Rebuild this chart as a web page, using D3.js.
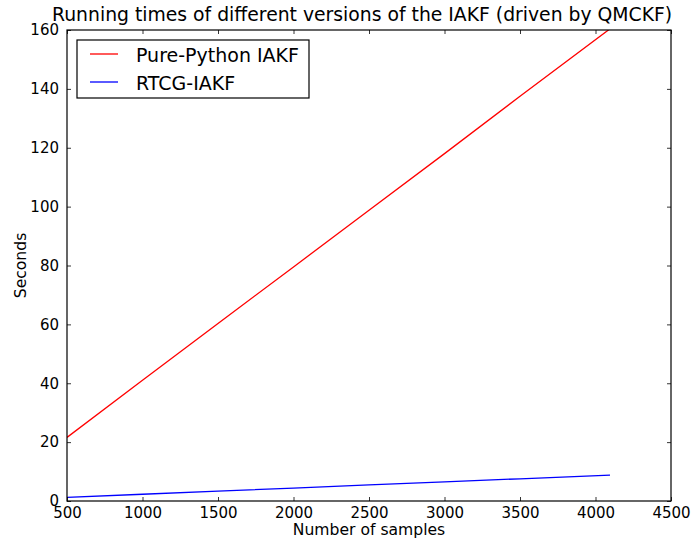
<!DOCTYPE html>
<html>
<head>
<meta charset="utf-8">
<script src="https://cdn.jsdelivr.net/npm/d3@7"></script>
<style>
  html, body { margin: 0; padding: 0; background: #fff; }
  svg { display: block; font-family: "DejaVu Sans", sans-serif; }
</style>
</head>
<body>
<svg id="chart" width="693" height="539"></svg>
<script>
// Number of samples processed
const samples = [500, 1000, 1500, 2000, 2500, 3000, 3500, 4096];
// Running time in seconds for each implementation
const purePython = [21.6, 41.0, 60.3, 79.5, 98.8, 118.0, 137.5, 160.4];
const rtcg = [1.25, 2.3, 3.35, 4.4, 5.45, 6.5, 7.55, 8.8];
const seriesNames = ["Pure-Python IAKF", "RTCG-IAKF"];
const seriesColors = ["#ff0000", "#0000ff"];
const xTicks = [500, 1000, 1500, 2000, 2500, 3000, 3500, 4000, 4500];
const yTicks = [0, 20, 40, 60, 80, 100, 120, 140, 160];

const svg = d3.select("#chart");
const m = { left: 67, right: 671, top: 30, bottom: 501 };

const x = d3.scaleLinear().domain([500, 4500]).range([m.left, m.right]);
const y = d3.scaleLinear().domain([0, 160]).range([m.bottom, m.top]);

svg.append("defs").append("clipPath").attr("id", "plotClip")
  .append("rect").attr("x", m.left).attr("y", m.top)
  .attr("width", m.right - m.left).attr("height", m.bottom - m.top);

// Lines
const line = d3.line().x((d, i) => x(samples[i])).y(d => y(d));
[purePython, rtcg].forEach((vals, k) => {
  svg.append("path")
    .datum(vals)
    .attr("clip-path", "url(#plotClip)")
    .attr("fill", "none")
    .attr("stroke", seriesColors[k])
    .attr("stroke-width", 1.3)
    .attr("d", line);
});

// Axes: inward ticks on all four sides
const tickLen = 4;
const axStyle = g => {
  g.select(".domain").remove();
  g.selectAll(".tick line").attr("stroke", "#000").attr("stroke-width", 0.8);
  g.selectAll(".tick text").attr("fill", "#000").attr("font-size", 15)
    .attr("font-family", "DejaVu Sans, sans-serif");
};
svg.append("g").attr("transform", `translate(0,${m.bottom})`)
  .call(d3.axisBottom(x).tickValues(xTicks).tickSize(-tickLen).tickPadding(6).tickFormat(d3.format("d")))
  .call(axStyle);
svg.append("g").attr("transform", `translate(0,${m.top})`)
  .call(d3.axisTop(x).tickValues(xTicks).tickSize(-tickLen).tickFormat(""))
  .call(axStyle);
svg.append("g").attr("transform", `translate(${m.left},0)`)
  .call(d3.axisLeft(y).tickValues(yTicks).tickSize(-tickLen).tickPadding(8).tickFormat(d3.format("d")))
  .call(axStyle);
svg.append("g").attr("transform", `translate(${m.right},0)`)
  .call(d3.axisRight(y).tickValues(yTicks).tickSize(-tickLen).tickFormat(""))
  .call(axStyle);

// Frame
svg.append("rect").attr("x", m.left).attr("y", m.top)
  .attr("width", m.right - m.left).attr("height", m.bottom - m.top)
  .attr("fill", "none").attr("stroke", "#000").attr("stroke-width", 1.2);

// Title and axis labels
svg.append("text").attr("x", 52).attr("y", 21)
  .attr("font-size", 18.8).attr("fill", "#000")
  .text("Running times of different versions of the IAKF (driven by QMCKF)");
svg.append("text").attr("x", (m.left + m.right) / 2).attr("y", 535)
  .attr("text-anchor", "middle").attr("font-size", 15.6).attr("fill", "#000")
  .text("Number of samples");
svg.append("text").attr("transform", `translate(26,${(m.top + m.bottom) / 2}) rotate(-90)`)
  .attr("text-anchor", "middle").attr("font-size", 15.6).attr("fill", "#000")
  .text("Seconds");

// Legend
const lg = svg.append("g");
lg.append("rect").attr("x", 77).attr("y", 40).attr("width", 232).attr("height", 58)
  .attr("fill", "#fff").attr("stroke", "#000").attr("stroke-width", 1.2);
seriesNames.forEach((name, k) => {
  const ly = 54 + k * 28;
  lg.append("line").attr("x1", 90).attr("x2", 118).attr("y1", ly).attr("y2", ly)
    .attr("stroke", seriesColors[k]).attr("stroke-width", 1.3);
  lg.append("text").attr("x", 136).attr("y", ly + 8).attr("font-size", 19).attr("fill", "#000")
    .text(name);
});
</script>
</body>
</html>
